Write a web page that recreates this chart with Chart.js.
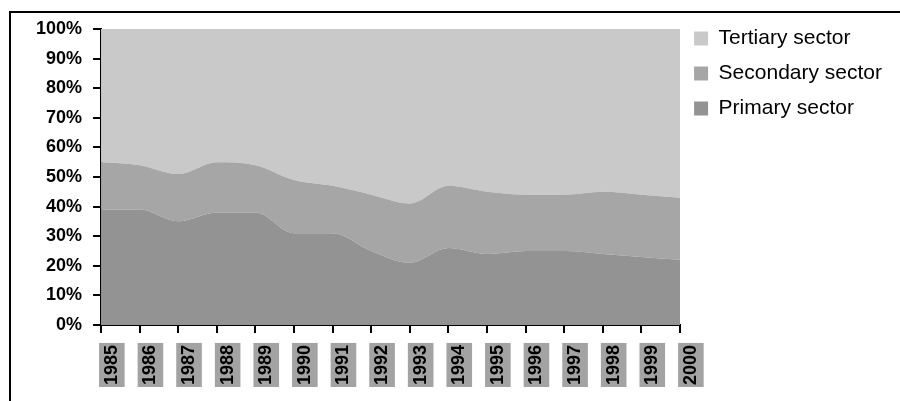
<!DOCTYPE html>
<html>
<head>
<meta charset="utf-8">
<title>Employment by sector, 1985–2000</title>
<script src="https://cdn.jsdelivr.net/npm/chart.js@4/dist/chart.umd.min.js"></script>
<style>
  html, body { margin: 0; padding: 0; background: #ffffff; }
  #wrap { width: 900px; height: 401px; position: relative; }
</style>
</head>
<body>
<div id="wrap"><canvas id="chart" width="900" height="401"></canvas></div>
<script>
// Share of each sector, percent of total, one value per year
const years = ['1985', '1986', '1987', '1988', '1989', '1990', '1991', '1992',
               '1993', '1994', '1995', '1996', '1997', '1998', '1999', '2000'];
const primarySector   = [39, 39, 35, 38, 38, 31, 31, 25, 21, 26, 24, 25, 25, 24, 23, 22];
const secondarySector = [16, 15, 16, 17, 16, 18, 16, 19, 20, 21, 21, 19, 19, 21, 21, 21];
const tertiarySector  = [45, 46, 49, 45, 46, 51, 53, 56, 59, 53, 55, 56, 56, 55, 56, 57];
const seriesNames = ['Primary sector', 'Secondary sector', 'Tertiary sector'];

const colors = { primary: '#939393', secondary: '#a6a6a6', tertiary: '#c9c9c9' };

function areaSet(label, data, color, fill) {
  return {
    label, data, fill,
    backgroundColor: color,
    borderColor: color,
    borderWidth: 0,
    pointRadius: 0,
    pointHoverRadius: 0,
    cubicInterpolationMode: 'monotone'
  };
}

// Thin black frame along the top and left edge of the figure
const framePlugin = {
  id: 'frame',
  afterDraw(chart) {
    const ctx = chart.ctx;
    ctx.save();
    ctx.fillStyle = '#000';
    ctx.fillRect(9, 11, chart.width - 9, 2);
    ctx.fillRect(9, 11, 2, chart.height - 11);
    ctx.restore();
  }
};

const axisFont = { family: '"Liberation Sans", Arial, sans-serif', size: 18, weight: 'bold' };

new Chart(document.getElementById('chart'), {
  type: 'line',
  data: {
    labels: years,
    datasets: [
      areaSet(seriesNames[0], primarySector, colors.primary, 'origin'),
      areaSet(seriesNames[1], secondarySector, colors.secondary, '-1'),
      areaSet(seriesNames[2], tertiarySector, colors.tertiary, '-1')
    ]
  },
  options: {
    responsive: false,
    animation: false,
    devicePixelRatio: 1,
    layout: { padding: { top: 14, left: 25, right: 8, bottom: 4 } },
    plugins: {
      tooltip: { enabled: false },
      legend: {
        position: 'right',
        align: 'start',
        reverse: true,
        maxWidth: 220,
        labels: {
          boxWidth: 14,
          boxHeight: 14,
          padding: 14,
          color: '#000',
          font: { family: '"Liberation Sans", Arial, sans-serif', size: 21 }
        }
      }
    },
    scales: {
      x: {
        type: 'category',
        offset: false,
        grid: { display: true, drawOnChartArea: false, drawTicks: true, tickLength: 8, color: '#000', lineWidth: 2 },
        border: { display: true, color: '#000', width: 2 },
        ticks: {
          autoSkip: false,
          minRotation: 90,
          maxRotation: 90,
          padding: 12,
          color: '#000',
          font: axisFont,
          showLabelBackdrop: true,
          backdropColor: '#a3a3a3',
          backdropPadding: { top: 2, bottom: 2, left: 2, right: 2 }
        }
      },
      y: {
        stacked: true,
        min: 0,
        max: 100,
        grid: { display: true, drawOnChartArea: false, drawTicks: true, tickLength: 8, color: '#000', lineWidth: 2 },
        border: { display: true, color: '#000', width: 2 },
        ticks: {
          stepSize: 10,
          padding: 11,
          color: '#000',
          font: axisFont,
          callback: v => v + '%'
        },
        afterFit(scale) { scale.paddingTop = 29; }
      }
    }
  },
  plugins: [framePlugin]
});
</script>
</body>
</html>
